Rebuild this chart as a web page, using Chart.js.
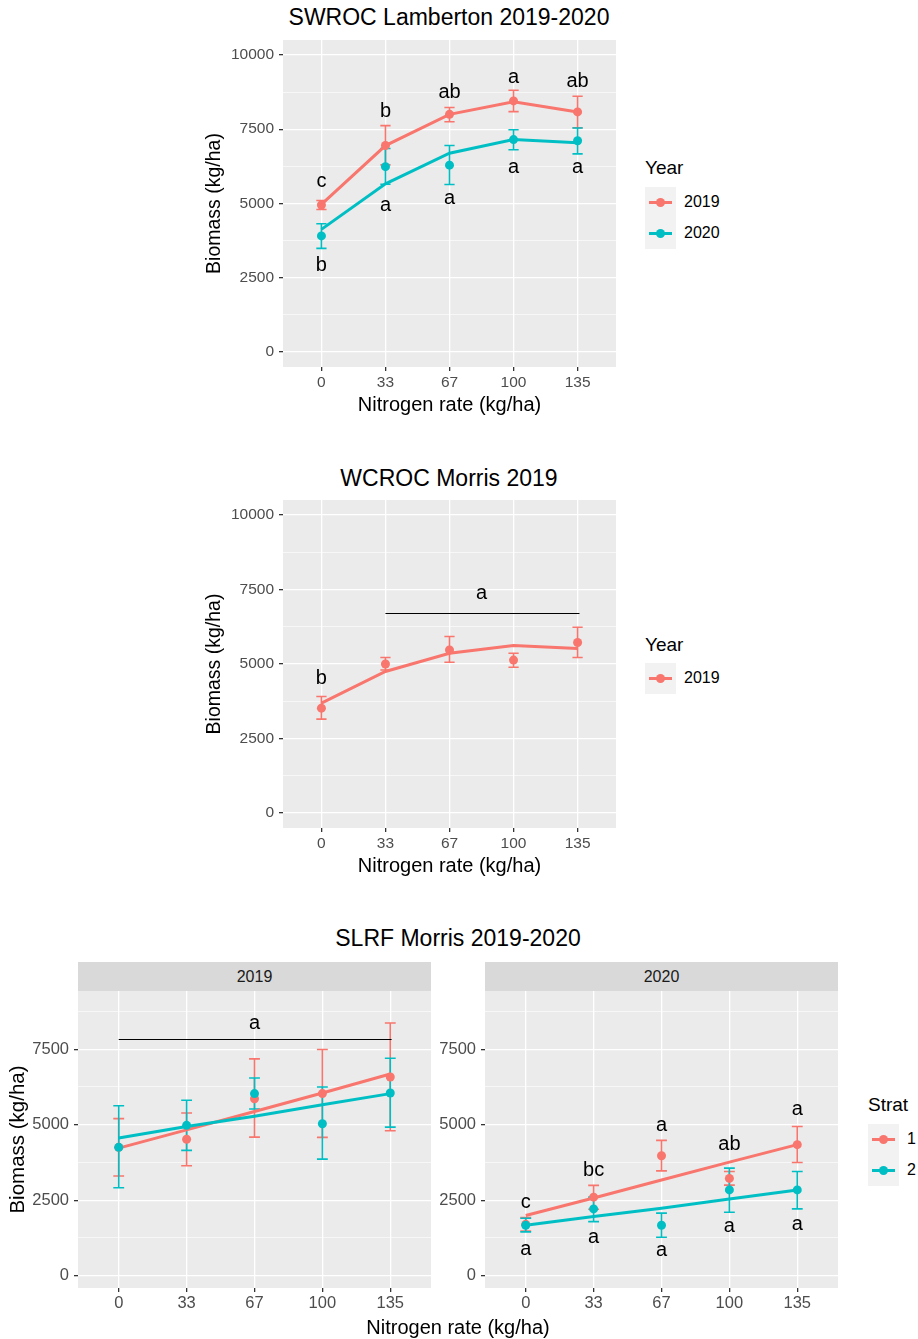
<!DOCTYPE html>
<html>
<head>
<meta charset="utf-8">
<title>Biomass vs nitrogen rate</title>
<script src="https://cdn.jsdelivr.net/npm/chart.js@4.4.1/dist/chart.umd.min.js"></script>
<style>
  html, body { margin: 0; padding: 0; background: #fff; }
  body { position: relative; width: 918px; height: 1339px; overflow: hidden;
         font-family: "Liberation Sans", Arial, Helvetica, sans-serif; }
  canvas { position: absolute; }
  .lbl { position: absolute; white-space: nowrap; transform: translate(-50%, -50%); color: #000; }
  .txt { position: absolute; white-space: nowrap; transform: translateY(-50%); color: #000; }
  .strip { position: absolute; background: #D9D9D9; color: #1A1A1A; font-size: 16px;
           display: flex; align-items: center; justify-content: center; }
  .keybox { position: absolute; background: #F2F2F2; }
  .keyline { position: absolute; height: 3px; }
  .keydot { position: absolute; width: 9px; height: 9px; border-radius: 50%; }
</style>
</head>
<body>
<div class="lbl" style="left:449px;top:17px;font-size:23px">SWROC Lamberton 2019-2020</div>
<canvas id="lamberton"></canvas>
<div class="lbl" style="left:449px;top:478px;font-size:23px">WCROC Morris 2019</div>
<canvas id="morris"></canvas>
<div class="lbl" style="left:458px;top:938px;font-size:23px">SLRF Morris 2019-2020</div>
<div class="strip" style="left:78px;top:962px;width:353px;height:29px">2019</div>
<div class="strip" style="left:485px;top:962px;width:353px;height:29px">2020</div>
<canvas id="slrf2019"></canvas>
<canvas id="slrf2020"></canvas>
<div class="lbl" style="left:458px;top:1327px;font-size:20px">Nitrogen rate (kg/ha)</div>

<script>
// categorias e eixos
const nRates = ['0', '33', '67', '100', '135'];
const yBreaksFull = [0, 2500, 5000, 7500, 10000];
const yBreaksStrat = [0, 2500, 5000, 7500];
const yearNames = ['2019', '2020'];
const stratNames = ['1', '2'];
const red = '#F8766D', teal = '#00BFC4';

// SWROC Lamberton 2019-2020
const lamb2019Mean = [4950, 6950, 8000, 8450, 8080];
const lamb2019Lo = [4800, 6300, 7750, 8090, 7550];
const lamb2019Hi = [5100, 7620, 8230, 8810, 8610];
const lamb2019Fit = [4970, 6950, 8000, 8420, 8080];
const lamb2019Letters = ['c', 'b', 'ab', 'a', 'ab'];
const lamb2019LetterY = [5750, 8100, 8740, 9240, 9090];
const lamb2020Mean = [3910, 6240, 6290, 7150, 7110];
const lamb2020Lo = [3490, 5650, 5640, 6810, 6670];
const lamb2020Hi = [4320, 6850, 6950, 7480, 7540];
const lamb2020Fit = [4130, 5660, 6690, 7150, 7040];
const lamb2020Letters = ['b', 'a', 'a', 'a', 'a'];
const lamb2020LetterY = [2930, 4940, 5160, 6200, 6200];

// WCROC Morris 2019
const morrisMean = [3520, 5000, 5470, 5130, 5720];
const morrisLo = [3150, 4800, 5060, 4890, 5220];
const morrisHi = [3910, 5220, 5920, 5360, 6230];
const morrisFit = [3690, 4750, 5360, 5620, 5520];
const morrisLetters = ['b', 'a'];
const morrisLetterX = [0, 2.5];
const morrisLetterY = [4500, 7370];
const morrisBracket = [1, 4.03, 6720];   // de, até, nível

// SLRF Morris 2019
const slrf19S1Mean = [4250, 4520, 5860, 6030, 6580];
const slrf19S1Lo = [3300, 3640, 4590, 4580, 4800];
const slrf19S1Hi = [5200, 5390, 7180, 7490, 8370];
const slrf19S1Fit = [4225, 4830, 5440, 6050, 6680];
const slrf19S2Mean = [4250, 4980, 6030, 5030, 6050];
const slrf19S2Lo = [2910, 4150, 5520, 3860, 4920];
const slrf19S2Hi = [5630, 5810, 6550, 6250, 7200];
const slrf19S2Fit = [4560, 4940, 5280, 5660, 6030];
const slrf19Letters = ['a'];
const slrf19LetterX = [2];
const slrf19LetterY = [8350];
const slrf19Bracket = [0, 4.02, 7850];

// SLRF Morris 2020
const slrf20S1Mean = [1700, 2600, 3970, 3220, 4340];
const slrf20S1Lo = [1480, 2200, 3470, 3000, 3750];
const slrf20S1Hi = [1920, 2990, 4480, 3450, 4940];
const slrf20S1Fit = [1990, 2570, 3170, 3760, 4340];
const slrf20S1Letters = ['c', 'bc', 'a', 'ab', 'a'];
const slrf20S1LetterY = [2430, 3470, 4980, 4360, 5520];
const slrf20S2Mean = [1670, 2210, 1670, 2840, 2840];
const slrf20S2Lo = [1450, 1790, 1270, 2100, 2210];
const slrf20S2Hi = [1900, 2600, 2070, 3560, 3450];
const slrf20S2Fit = [1670, 1960, 2230, 2540, 2840];
const slrf20S2Letters = ['a', 'a', 'a', 'a', 'a'];
const slrf20S2LetterY = [850, 1270, 820, 1630, 1680];

const catIdx = nRates.map((_, i) => i);
const FONT = '"Liberation Sans", Arial, Helvetica, sans-serif';
const PAD_T = 20, PAD_R = 10;
Chart.defaults.font.family = FONT;

function pts(vals) {
    return vals.map((v, i) => ({ x: i, y: v }));
}

function meanSet(vals, color) {
    return { data: pts(vals), showLine: false, pointRadius: 4.5, pointHoverRadius: 4.5,
             pointBackgroundColor: color, pointBorderWidth: 0, borderColor: color };
}

function fitSet(vals, color) {
    return { data: pts(vals), showLine: true, borderColor: color, borderWidth: 3,
             pointRadius: 0, tension: 0, fill: false };
}

// fundo, barras de erro, letras e linhas de agrupamento
function overlay(errs, letters, brackets, letterSize) {
    return {
        id: 'overlay',
        beforeDraw(chart) {
            const { ctx, chartArea: a } = chart;
            ctx.save();
            ctx.fillStyle = '#EBEBEB';
            ctx.fillRect(a.left, a.top, a.right - a.left, a.bottom - a.top);
            ctx.restore();
        },
        beforeDatasetsDraw(chart) {
            const { ctx, scales: { x, y } } = chart;
            ctx.save();
            ctx.lineWidth = 1.6;
            errs.forEach(e => {
                ctx.strokeStyle = e.color;
                e.lo.forEach((lo, i) => {
                    const px = x.getPixelForValue(i);
                    const w = x.getPixelForValue(i + 0.08) - px;
                    const y1 = y.getPixelForValue(lo), y2 = y.getPixelForValue(e.hi[i]);
                    ctx.beginPath();
                    ctx.moveTo(px, y1); ctx.lineTo(px, y2);
                    ctx.moveTo(px - w, y1); ctx.lineTo(px + w, y1);
                    ctx.moveTo(px - w, y2); ctx.lineTo(px + w, y2);
                    ctx.stroke();
                });
            });
            ctx.restore();
        },
        afterDatasetsDraw(chart) {
            const { ctx, scales: { x, y } } = chart;
            ctx.save();
            ctx.strokeStyle = '#000';
            ctx.lineWidth = 1;
            brackets.forEach(b => {
                const yy = Math.round(y.getPixelForValue(b[2])) + 0.5;
                ctx.beginPath();
                ctx.moveTo(x.getPixelForValue(b[0]), yy);
                ctx.lineTo(x.getPixelForValue(b[1]), yy);
                ctx.stroke();
            });
            ctx.fillStyle = '#000';
            ctx.font = letterSize + 'px ' + FONT;
            ctx.textAlign = 'center';
            ctx.textBaseline = 'middle';
            letters.forEach(s => {
                s.text.forEach((t, k) => {
                    ctx.fillText(t, x.getPixelForValue(s.x[k]), y.getPixelForValue(s.y[k]));
                });
            });
            ctx.restore();
        }
    };
}

function makePanel(id, p) {
    const canvas = document.getElementById(id);
    const w = p.yW + (p.plot.r - p.plot.l) + PAD_R;
    const h = PAD_T + (p.plot.b - p.plot.t) + p.xH;
    canvas.width = w; canvas.height = h;
    canvas.style.width = w + 'px'; canvas.style.height = h + 'px';
    canvas.style.left = (p.plot.l - p.yW) + 'px';
    canvas.style.top = (p.plot.t - PAD_T) + 'px';

    const majors = p.yBreaks;
    const step = majors[1] - majors[0];
    const minors = majors.map(v => v + step / 2).filter(v => v < p.yMax);
    const allY = majors.concat(minors).sort((a, b) => a - b);
    const isMajor = v => majors.includes(v);

    return new Chart(canvas.getContext('2d'), {
        type: 'scatter',
        data: { datasets: p.datasets },
        options: {
            responsive: false,
            animation: false,
            events: [],
            devicePixelRatio: 1,
            layout: { padding: { top: PAD_T, right: PAD_R, left: 0, bottom: 0 } },
            plugins: { legend: { display: false }, tooltip: { enabled: false }, title: { display: false } },
            scales: {
                x: {
                    type: 'linear', min: -0.6, max: 4.6,
                    afterBuildTicks: s => { s.ticks = catIdx.map(i => ({ value: i })); },
                    afterFit: s => { s.height = p.xH; },
                    grid: { color: '#FFFFFF', lineWidth: 1.3, drawTicks: true, tickLength: 4, tickColor: '#333333' },
                    border: { display: false },
                    ticks: { callback: v => nRates[v], autoSkip: false, maxRotation: 0,
                             font: { size: p.tickSize }, color: '#4D4D4D', padding: p.xPad },
                    title: { display: !!p.xTitle, text: p.xTitle, color: '#000',
                             font: { size: 20 }, padding: 0 }
                },
                y: {
                    type: 'linear', min: p.yMin, max: p.yMax,
                    afterBuildTicks: s => { s.ticks = allY.map(v => ({ value: v })); },
                    afterFit: s => { s.width = p.yW; },
                    grid: {
                        color: '#FFFFFF',
                        lineWidth: c => isMajor(c.tick.value) ? 1.3 : 0.6,
                        drawTicks: true, tickLength: 4,
                        tickColor: c => isMajor(c.tick.value) ? '#333333' : 'rgba(0,0,0,0)'
                    },
                    border: { display: false },
                    ticks: { callback: v => isMajor(v) ? String(v) : '', autoSkip: false,
                             font: { size: p.tickSize }, color: '#4D4D4D', padding: 5 },
                    title: { display: !!p.yTitle, text: p.yTitle, color: '#000',
                             font: { size: p.yTitleSize }, padding: 0 }
                }
            }
        },
        plugins: [overlay(p.errs, p.letters, p.brackets, p.letterSize)]
    });
}

function addLegend(title, names, colors, left, titleY, firstY, gap, titleSize, labelSize) {
    const t = document.createElement('div');
    t.className = 'txt';
    t.style.cssText = `left:${left}px;top:${titleY}px;font-size:${titleSize}px`;
    t.textContent = title;
    document.body.appendChild(t);
    const box = document.createElement('div');
    box.className = 'keybox';
    box.style.cssText = `left:${left}px;top:${firstY - gap / 2}px;width:31px;height:${gap * names.length}px`;
    document.body.appendChild(box);
    names.forEach((n, k) => {
        const cy = firstY + k * gap;
        const line = document.createElement('div');
        line.className = 'keyline';
        line.style.cssText = `left:${left + 4}px;top:${cy - 1.5}px;width:23px;background:${colors[k]}`;
        const dot = document.createElement('div');
        dot.className = 'keydot';
        dot.style.cssText = `left:${left + 11}px;top:${cy - 4.5}px;background:${colors[k]}`;
        const lab = document.createElement('div');
        lab.className = 'txt';
        lab.style.cssText = `left:${left + 39}px;top:${cy}px;font-size:${labelSize}px`;
        lab.textContent = n;
        document.body.append(line, dot, lab);
    });
}

makePanel('lamberton', {
    plot: { l: 283, t: 40, r: 616, b: 367 }, yW: 80, xH: 50, xPad: 2,
    yMin: -500, yMax: 10500, yBreaks: yBreaksFull, tickSize: 15.5,
    xTitle: 'Nitrogen rate (kg/ha)', yTitle: 'Biomass (kg/ha)', yTitleSize: 19.5, letterSize: 20,
    datasets: [meanSet(lamb2020Mean, teal), meanSet(lamb2019Mean, red),
               fitSet(lamb2020Fit, teal), fitSet(lamb2019Fit, red)],
    errs: [{ lo: lamb2019Lo, hi: lamb2019Hi, color: red }, { lo: lamb2020Lo, hi: lamb2020Hi, color: teal }],
    letters: [{ x: catIdx, y: lamb2019LetterY, text: lamb2019Letters },
              { x: catIdx, y: lamb2020LetterY, text: lamb2020Letters }],
    brackets: []
});

makePanel('morris', {
    plot: { l: 283, t: 500, r: 616, b: 828 }, yW: 80, xH: 50, xPad: 2,
    yMin: -500, yMax: 10500, yBreaks: yBreaksFull, tickSize: 15.5,
    xTitle: 'Nitrogen rate (kg/ha)', yTitle: 'Biomass (kg/ha)', yTitleSize: 19.5, letterSize: 20,
    datasets: [meanSet(morrisMean, red), fitSet(morrisFit, red)],
    errs: [{ lo: morrisLo, hi: morrisHi, color: red }],
    letters: [{ x: morrisLetterX, y: morrisLetterY, text: morrisLetters }],
    brackets: [morrisBracket]
});

makePanel('slrf2019', {
    plot: { l: 78, t: 991, r: 431, b: 1288 }, yW: 72, xH: 28, xPad: 2,
    yMin: -410, yMax: 9430, yBreaks: yBreaksStrat, tickSize: 16.5,
    xTitle: '', yTitle: 'Biomass (kg/ha)', yTitleSize: 20.5, letterSize: 20,
    datasets: [meanSet(slrf19S2Mean, teal), meanSet(slrf19S1Mean, red),
               fitSet(slrf19S2Fit, teal), fitSet(slrf19S1Fit, red)],
    errs: [{ lo: slrf19S1Lo, hi: slrf19S1Hi, color: red }, { lo: slrf19S2Lo, hi: slrf19S2Hi, color: teal }],
    letters: [{ x: slrf19LetterX, y: slrf19LetterY, text: slrf19Letters }],
    brackets: [slrf19Bracket]
});

makePanel('slrf2020', {
    plot: { l: 485, t: 991, r: 838, b: 1288 }, yW: 55, xH: 28, xPad: 2,
    yMin: -410, yMax: 9430, yBreaks: yBreaksStrat, tickSize: 16.5,
    xTitle: '', yTitle: '', yTitleSize: 20.5, letterSize: 20,
    datasets: [meanSet(slrf20S2Mean, teal), meanSet(slrf20S1Mean, red),
               fitSet(slrf20S2Fit, teal), fitSet(slrf20S1Fit, red)],
    errs: [{ lo: slrf20S1Lo, hi: slrf20S1Hi, color: red }, { lo: slrf20S2Lo, hi: slrf20S2Hi, color: teal }],
    letters: [{ x: catIdx, y: slrf20S1LetterY, text: slrf20S1Letters },
              { x: catIdx, y: slrf20S2LetterY, text: slrf20S2Letters }],
    brackets: []
});

addLegend('Year', yearNames, [red, teal], 645, 168, 202, 31, 19, 16);
addLegend('Year', yearNames.slice(0, 1), [red], 645, 645, 678, 31, 19, 16);
addLegend('Strat', stratNames, [red, teal], 868, 1105, 1139, 31, 19, 16);
</script>
</body>
</html>
